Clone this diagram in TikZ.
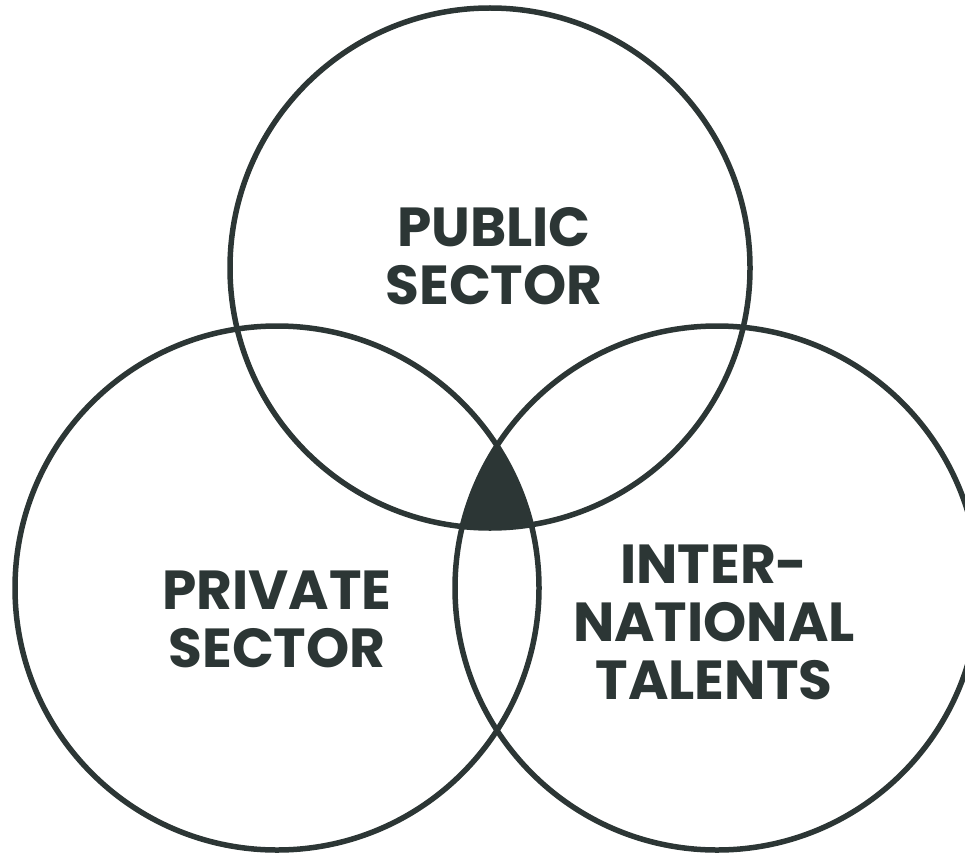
\documentclass[tikz,border=0pt]{standalone}
\usepackage{fontspec}
\setmainfont{Poppins}
\definecolor{ink}{HTML}{2C3635}
\begin{document}
\begin{tikzpicture}[x=1pt,y=-1pt,
  ring/.style={circle, draw=ink, line width=5.5pt, inner sep=0pt},
  lbl/.style={text=ink, align=center, font=\fontsize{55}{58}\selectfont\bfseries}]
\useasboundingbox (0,0) rectangle (965,853);
\begin{scope}
  \clip (490,268) circle (260);
  \clip (277,588) circle (262);
  \fill[ink] (717,588) circle (262);
\end{scope}
\node[ring, minimum size=520pt] (pub) at (490,268) {};
\node[ring, minimum size=524pt] (priv) at (277,588) {};
\node[ring, minimum size=524pt] (intl) at (717,588) {};
\node[lbl] (tpub) at (494,256) {PUBLIC\\SECTOR};
\node[lbl] (tpriv) at (277,619) {PRIVATE\\SECTOR};
\node[lbl] (tintl) at (714,622) {INTER-\\NATIONAL\\TALENTS};
\end{tikzpicture}
\end{document}
